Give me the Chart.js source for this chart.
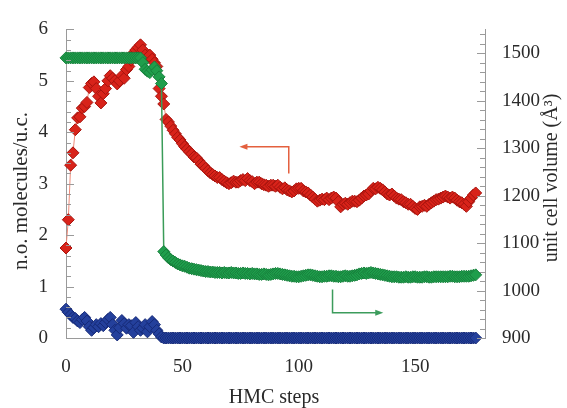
<!DOCTYPE html>
<html>
<head>
<meta charset="utf-8">
<script src="https://cdn.jsdelivr.net/npm/chart.js@4"></script>
<style>
  body { margin: 0; background: #fff; }
  #wrap { width: 567px; height: 408px; }
</style>
</head>
<body>
<div id="wrap"><canvas id="chart" width="567" height="408"></canvas></div>
<script>
// HMC step index 0..176
const steps = Array.from({ length: 177 }, (_, i) => i);

const xTicks = [0, 50, 100, 150];
const leftTicks = [0, 1, 2, 3, 4, 5, 6];
const rightTicks = [900, 1000, 1100, 1200, 1300, 1400, 1500];

// n.o. molecules / u.c. (left axis), red
const molecules = [
  1.75, 2.3, 3.36, 3.6, 4.05, 4.28, 4.3, 4.47, 4.5, 4.58,
  4.87, 4.95, 4.98, 4.85, 4.7, 4.57, 4.75, 4.85, 5.0, 5.1,
  5.05, 5.0, 4.94, 5.0, 5.1, 5.05, 5.22, 5.28, 5.4, 5.54,
  5.6, 5.65, 5.7, 5.6, 5.5, 5.45, 5.5, 5.42, 5.35, 5.28,
  4.85, 4.7, 4.55, 4.25, 4.2, 4.12, 4.04, 3.97, 3.9, 3.85,
  3.78, 3.72, 3.67, 3.62, 3.58, 3.52, 3.5, 3.45, 3.38, 3.35,
  3.3, 3.25, 3.21, 3.18, 3.15, 3.12, 3.12, 3.08, 3.05, 3.02,
  3.0, 3.02, 3.05, 3.03, 3.03, 3.06, 3.08, 3.06, 3.1, 3.06,
  3.04, 3.0, 3.03, 3.03, 3.0, 2.98, 2.97, 2.95, 2.97, 2.97,
  2.95, 2.97, 2.93, 2.9, 2.92, 2.88, 2.86, 2.84, 2.86, 2.9,
  2.91, 2.91, 2.86, 2.84, 2.82, 2.78, 2.74, 2.7, 2.66, 2.68,
  2.7, 2.69, 2.72, 2.69, 2.72, 2.74, 2.72, 2.65, 2.55, 2.6,
  2.62, 2.6, 2.63, 2.66, 2.66, 2.65, 2.68, 2.72, 2.76, 2.78,
  2.8, 2.86, 2.91, 2.9, 2.93, 2.91, 2.88, 2.84, 2.8, 2.78,
  2.8, 2.76, 2.72, 2.7, 2.69, 2.65, 2.63, 2.6, 2.6, 2.56,
  2.52, 2.5, 2.55, 2.56, 2.58, 2.56, 2.6, 2.63, 2.66, 2.69,
  2.7, 2.72, 2.74, 2.76, 2.74, 2.72, 2.74, 2.72, 2.68, 2.65,
  2.63, 2.6, 2.56, 2.65, 2.72, 2.78, 2.82
];

// second species (left axis), blue
const molecules2 = [
  0.56, 0.50, 0.45, 0.40, 0.38, 0.33, 0.30, 0.36, 0.40, 0.33,
  0.22, 0.15, 0.20, 0.26, 0.22, 0.28, 0.24, 0.30, 0.36, 0.40,
  0.26, 0.15, 0.06, 0.20, 0.34, 0.28, 0.19, 0.26, 0.24, 0.11,
  0.30, 0.22, 0.15, 0.19, 0.26, 0.12, 0.22, 0.32, 0.26, 0.15,
  0.08, 0.02,
  0, 0, 0, 0, 0, 0, 0, 0, 0, 0, 0, 0, 0, 0, 0,
  0, 0, 0, 0, 0, 0, 0, 0, 0, 0, 0, 0, 0, 0, 0,
  0, 0, 0, 0, 0, 0, 0, 0, 0, 0, 0, 0, 0, 0, 0,
  0, 0, 0, 0, 0, 0, 0, 0, 0, 0, 0, 0, 0, 0, 0,
  0, 0, 0, 0, 0, 0, 0, 0, 0, 0, 0, 0, 0, 0, 0,
  0, 0, 0, 0, 0, 0, 0, 0, 0, 0, 0, 0, 0, 0, 0,
  0, 0, 0, 0, 0, 0, 0, 0, 0, 0, 0, 0, 0, 0, 0,
  0, 0, 0, 0, 0, 0, 0, 0, 0, 0, 0, 0, 0, 0, 0,
  0, 0, 0, 0, 0, 0, 0, 0, 0, 0, 0, 0, 0, 0, 0
];

// unit cell volume (right axis), green
const volume = [
  1490, 1490, 1490, 1490, 1490, 1490, 1490, 1490, 1490, 1490,
  1490, 1490, 1490, 1490, 1490, 1490, 1490, 1490, 1490, 1490,
  1490, 1490, 1490, 1490, 1490, 1490, 1490, 1490, 1490, 1490,
  1490, 1490, 1490,
  1480, 1466, 1462, 1459, 1465, 1471, 1463, 1450, 1436,
  1082, 1075, 1069, 1065, 1062, 1059, 1056, 1054, 1052, 1051,
  1049, 1047, 1046, 1045, 1044, 1043, 1042, 1041, 1040,
  1040, 1039, 1039, 1038, 1038, 1038, 1037, 1038, 1037, 1037,
  1038, 1037, 1037, 1036, 1036, 1037, 1036, 1036, 1035, 1036,
  1035, 1035, 1034, 1034, 1035, 1034, 1033, 1034, 1035, 1036,
  1036, 1035, 1034, 1033, 1032, 1031, 1030, 1030, 1029, 1029,
  1030, 1031, 1032, 1033, 1033, 1032, 1031, 1030, 1029, 1029,
  1030, 1030, 1031, 1031, 1030, 1030, 1029, 1029, 1030, 1031,
  1030, 1030, 1031, 1032, 1033, 1035, 1036, 1037, 1036, 1037,
  1038, 1037, 1036, 1035, 1034, 1033, 1032, 1031, 1030, 1029,
  1029, 1029, 1028, 1028, 1028, 1029, 1028, 1028, 1029, 1029,
  1028, 1028, 1028, 1029, 1029, 1028, 1028, 1029, 1029, 1029,
  1029, 1029, 1029, 1029, 1030, 1030, 1029, 1029, 1029, 1030,
  1030, 1030, 1030, 1031, 1032, 1033
];

const tickFont = { family: "Liberation Serif", size: 19 };
const axisGray = "#9a9a9a";
const textColor = "#2a2a2a";

// inward ticks, axis titles and the two pointer arrows
const decorations = {
  id: "decorations",
  afterDraw(chart) {
    const ctx = chart.ctx;
    const { x, y, y2 } = chart.scales;
    const area = chart.chartArea;
    ctx.save();
    ctx.strokeStyle = axisGray;
    ctx.lineWidth = 1;
    ctx.beginPath();
    for (let v = 0; v <= 6.001; v += 0.2) {
      const py = Math.round(y.getPixelForValue(v)) + 0.5;
      const major = Math.abs(v - Math.round(v)) < 0.01;
      ctx.moveTo(area.left, py);
      ctx.lineTo(area.left + (major ? 8 : 5), py);
    }
    for (let v = 900; v <= 1540; v += 20) {
      const py = Math.round(y2.getPixelForValue(v)) + 0.5;
      const major = v % 100 === 0;
      ctx.moveTo(area.right, py);
      ctx.lineTo(area.right - (major ? 8 : 5), py);
    }
    ctx.stroke();

    ctx.fillStyle = textColor;
    ctx.textAlign = "center";
    ctx.textBaseline = "middle";
    ctx.save();
    ctx.font = "21px 'Liberation Serif'";
    ctx.translate(21, 191);
    ctx.rotate(-Math.PI / 2);
    ctx.fillText("n.o. molecules/u.c.", 0, 0);
    ctx.restore();
    ctx.save();
    ctx.font = "20px 'Liberation Serif'";
    ctx.translate(552, 178);
    ctx.rotate(-Math.PI / 2);
    ctx.fillText("unit cell volume (Å³)", 0, 0);
    ctx.restore();
    ctx.font = "20px 'Liberation Serif'";
    ctx.fillText("HMC steps", 274, 398);

    // red arrow pointing to the left axis series
    ctx.strokeStyle = "#e4603e";
    ctx.fillStyle = "#e4603e";
    ctx.lineWidth = 1.5;
    let ax = x.getPixelForValue(95.7), ay0 = y.getPixelForValue(3.2), ay1 = y.getPixelForValue(3.72);
    let bx = x.getPixelForValue(74.5);
    ctx.beginPath();
    ctx.moveTo(ax, ay0); ctx.lineTo(ax, ay1); ctx.lineTo(bx + 4, ay1);
    ctx.stroke();
    ctx.beginPath();
    ctx.moveTo(bx, ay1); ctx.lineTo(bx + 8, ay1 - 3); ctx.lineTo(bx + 8, ay1 + 3); ctx.closePath();
    ctx.fill();

    // green arrow pointing to the right axis series
    ctx.strokeStyle = "#3c9c5c";
    ctx.fillStyle = "#3c9c5c";
    ax = x.getPixelForValue(114.5);
    ay0 = y2.getPixelForValue(1002);
    ay1 = y2.getPixelForValue(953);
    bx = x.getPixelForValue(136.3);
    ctx.beginPath();
    ctx.moveTo(ax, ay0); ctx.lineTo(ax, ay1); ctx.lineTo(bx - 4, ay1);
    ctx.stroke();
    ctx.beginPath();
    ctx.moveTo(bx, ay1); ctx.lineTo(bx - 8, ay1 - 3); ctx.lineTo(bx - 8, ay1 + 3); ctx.closePath();
    ctx.fill();
    ctx.restore();
  }
};

const plain = (v) => String(v);

new Chart(document.getElementById("chart"), {
  type: "line",
  data: {
    labels: steps,
    datasets: [
      {
        label: "unit cell volume",
        data: volume,
        yAxisID: "y2",
        borderColor: "#3a9c58",
        borderWidth: 1.5,
        pointStyle: "rectRot",
        pointRadius: 6,
        pointBackgroundColor: "#1f9e4c",
        pointBorderColor: "#17803c",
        pointBorderWidth: 1,
        clip: false,
        order: 1
      },
      {
        label: "molecules",
        data: molecules,
        yAxisID: "y",
        borderColor: "#ee8a78",
        borderWidth: 1,
        pointStyle: "rectRot",
        pointRadius: 6,
        pointBackgroundColor: "#d8231a",
        pointBorderColor: "#a8140e",
        pointBorderWidth: 1,
        clip: false,
        order: 2
      },
      {
        label: "molecules 2",
        data: molecules2,
        yAxisID: "y",
        borderColor: "#23379a",
        borderWidth: 1,
        pointStyle: "rectRot",
        pointRadius: 6,
        pointBackgroundColor: "#24409c",
        pointBorderColor: "#162a78",
        pointBorderWidth: 1,
        clip: false,
        order: 3
      }
    ]
  },
  options: {
    responsive: false,
    animation: false,
    layout: { padding: { top: 19, left: 0, right: 0, bottom: 0 } },
    plugins: { legend: { display: false }, tooltip: { enabled: false } },
    scales: {
      x: {
        type: "linear",
        min: 0,
        max: 180,
        afterBuildTicks: (s) => { s.ticks = xTicks.map(v => ({ value: v })); },
        ticks: { font: tickFont, color: textColor, padding: 18, maxRotation: 0, callback: plain },
        grid: { display: false, drawTicks: false },
        border: { display: true, color: axisGray },
        afterFit: (s) => { s.height = 70; }
      },
      y: {
        position: "left",
        min: 0,
        max: 6,
        afterBuildTicks: (s) => { s.ticks = leftTicks.map(v => ({ value: v })); },
        ticks: { font: tickFont, color: textColor, padding: 18, callback: plain },
        grid: { display: false, drawTicks: false },
        border: { display: true, color: axisGray },
        afterFit: (s) => { s.width = 66; }
      },
      y2: {
        position: "right",
        min: 900,
        max: 1550,
        afterBuildTicks: (s) => { s.ticks = rightTicks.map(v => ({ value: v })); },
        ticks: { font: tickFont, color: textColor, padding: 17, callback: plain },
        grid: { display: false, drawTicks: false },
        border: { display: true, color: axisGray },
        afterFit: (s) => { s.width = 82; }
      }
    }
  },
  plugins: [decorations]
});
</script>
</body>
</html>
